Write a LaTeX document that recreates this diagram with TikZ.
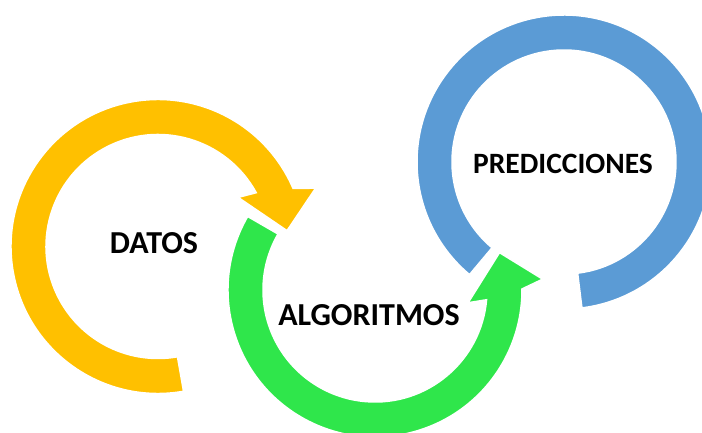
\documentclass[tikz,border=0pt]{standalone}
\usepackage{fontspec}
\setmainfont{Carlito}
\definecolor{amarillo}{HTML}{FFC000}
\definecolor{verde}{HTML}{2FE64B}
\definecolor{azul}{HTML}{5B9BD5}
\tikzset{anillo/.style={draw=white, line width=1.5pt, line join=miter},
  etiqueta/.style={font=\fontsize{#1}{36}\selectfont\bfseries, text=black},
  etiqueta/.default=32}
\begin{document}
\begin{tikzpicture}[x=1pt,y=1pt]
\useasboundingbox (0,0) rectangle (702,433);

% ring for predicciones
\begin{scope}[shift={(564,271)}]
\fill[azul, anillo] (230:147) arc[start angle=230, end angle=-83, radius=147] -- (-83:112) arc[start angle=-83, end angle=230, radius=112] -- cycle;
\end{scope}

% arrow for algoritmos
\begin{scope}[shift={(375,143)}]
\fill[verde, anillo] (150:147) arc[start angle=150, end angle=360.4, radius=147] -- (363.7:168) -- (376.7:130) -- (352.2:94) -- (355:112) arc[start angle=355, end angle=150, radius=112] -- cycle;
\end{scope}

% arrow for datos
\begin{scope}[shift={(158,186.5)}]
\fill[amarillo, anillo] (280:147) arc[start angle=280, end angle=23.3, radius=147] -- (20.3:168) -- (7:130) -- (31.5:94) -- (28.7:112) arc[start angle=28.7, end angle=280, radius=112] -- cycle;
\end{scope}

\node[etiqueta](datos) at (154,190) {DATOS};
\node[etiqueta](algo) at (369,117.5) {ALGORITMOS};
\node[etiqueta=29.5](pred) at (563,269) {PREDICCIONES};
\end{tikzpicture}
\end{document}
